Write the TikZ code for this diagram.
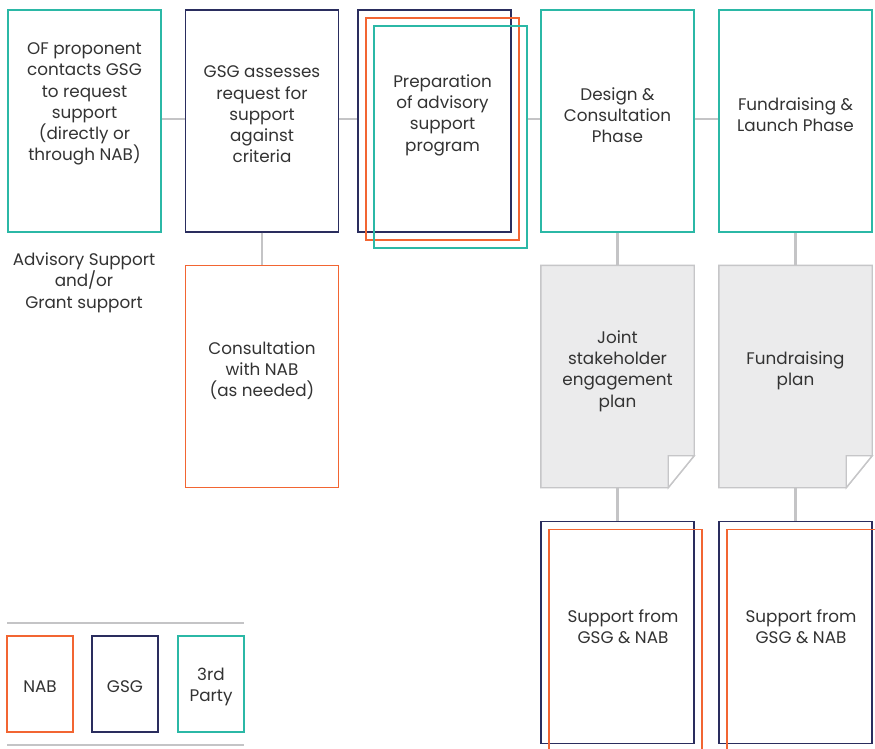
\documentclass[tikz,border=0pt]{standalone}
\usepackage{fontspec}
\setmainfont{Poppins}
\usetikzlibrary{calc}
\definecolor{cTeal}{HTML}{2BB8A6}
\definecolor{cNavy}{HTML}{2A2D5E}
\definecolor{cOrange}{HTML}{F26532}
\definecolor{cGrey}{HTML}{C4C4C6}
\definecolor{cDoc}{HTML}{EBEBEC}
\definecolor{cDocLine}{HTML}{C6C6C8}
\definecolor{cText}{HTML}{333333}
\begin{document}
\begin{tikzpicture}[x=1pt,y=-1pt,
  box/.style={draw=#1, line width=1.4pt, minimum width=153pt, minimum height=222pt, inner sep=0pt},
  lbox/.style={draw=#1, line width=1.4pt, minimum width=66pt, minimum height=96pt, inner sep=0pt},
  ghost/.style={minimum width=153pt, minimum height=222pt, inner sep=0pt},
  txt/.style={align=center, font=\fontsize{16.8}{21.3}\selectfont, text=cText, inner sep=0pt},
  conn/.style={draw=cGrey, line width=2.4pt},
  docstyle/.style={draw=cDocLine, fill=cDoc, line width=1.4pt, line join=miter},
  flap/.style={draw=cDocLine, fill=white, line width=1.4pt, line join=miter}]
\useasboundingbox (0,0) rectangle (875,748);
\clip (0,0) rectangle (875,748);
\fill[white] (0,0) rectangle (875,748);

% top row
\node[box=cTeal] (b1) at (84.5,121) {};
\node[box=cNavy] (b2) at (262,121) {};
\node[box=cNavy] (prepN) at (434.5,121) {};
\node[box=cOrange] (prepO) at (442.5,129) {};
\node[box=cTeal] (prepT) at (450.5,137) {};
\node[box=cTeal] (design) at (617.5,121) {};
\node[box=cTeal] (fund) at (795.5,121) {};

\coordinate (hy) at ($(b1.east)+(0,-2)$);

% second row
\node[box=cOrange] (cons) at (262,376.5) {};
\node[ghost] (doc1) at (617.5,376.5) {};
\node[ghost] (doc2) at (795.5,376.5) {};
\foreach \d in {doc1,doc2}{
  \draw[docstyle] (\d.north west) -- (\d.north east) -- ($(\d.south east)+(0,-32)$)
     -- ($(\d.south east)+(-26,0)$) -- (\d.south west) -- cycle;
  \draw[flap] ($(\d.south east)+(0,-32)$) -- ($(\d.south east)+(-26,-32)$)
     -- ($(\d.south east)+(-26,0)$) -- cycle;
}

% third row
\node[box=cNavy] (sup1N) at (617.5,632.5) {};
\node[box=cOrange] (sup1O) at (625.5,640.5) {};
\node[box=cNavy] (sup2N) at (795.5,632.5) {};
\node[box=cOrange] (sup2O) at (803.5,640.5) {};

% connectors
\draw[conn] (b1.east |- hy) -- (b2.west |- hy);
\draw[conn] (b2.east |- hy) -- (prepN.west |- hy);
\draw[conn] (prepT.east |- hy) -- (design.west |- hy);
\draw[conn] (design.east |- hy) -- (fund.west |- hy);
\draw[conn] (b2.south) -- (cons.north);
\draw[conn] (design.south) -- (doc1.north);
\draw[conn] (fund.south) -- (doc2.north);
\draw[conn] (doc1.south) -- (sup1N.north);
\draw[conn] (doc2.south) -- (sup2N.north);

% texts
\node[txt] (t1) at (84.5,104) {OF proponent\\contacts GSG\\to request\\support\\(directly or\\through NAB)};
\node[txt] (t2) at (262,114.5) {GSG assesses\\request for\\support\\against\\criteria};
\node[txt] (t3) at (442.5,115) {Preparation\\of advisory\\support\\program};
\node[txt] (t4) at (617.5,115) {Design \&\\Consultation\\Phase};
\node[txt] (t5) at (795.5,115) {Fundraising \&\\Launch Phase};
\node[txt] (adv) at (84,282.5) {Advisory Support\\and/or\\Grant support};
\node[txt] (t6) at (262,370.5) {Consultation\\with NAB\\(as needed)};
\node[txt] (t7) at (617.5,371) {Joint\\stakeholder\\engagement\\plan};
\node[txt] (t8) at (795.5,370.5) {Fundraising\\plan};
\node[txt] (t9) at (623,626.5) {Support from\\GSG \& NAB};
\node[txt] (t10) at (801,626.5) {Support from\\GSG \& NAB};

% legend
\coordinate (l1a) at (7,623);
\coordinate (l1b) at (244,623);
\coordinate (l2a) at (7,745);
\coordinate (l2b) at (244,745);
\draw[conn] (l1a) -- (l1b);
\draw[conn] (l2a) -- (l2b);
\node[lbox=cOrange] (lnab) at (40,684) {};
\node[lbox=cNavy] (lgsg) at (125,684) {};
\node[lbox=cTeal] (l3rd) at (211,684) {};
\node[txt] (tn) at (40,687) {NAB};
\node[txt] (tg) at (125,687) {GSG};
\node[txt] (t3p) at (211,687) {3rd\\Party};
\end{tikzpicture}
\end{document}
